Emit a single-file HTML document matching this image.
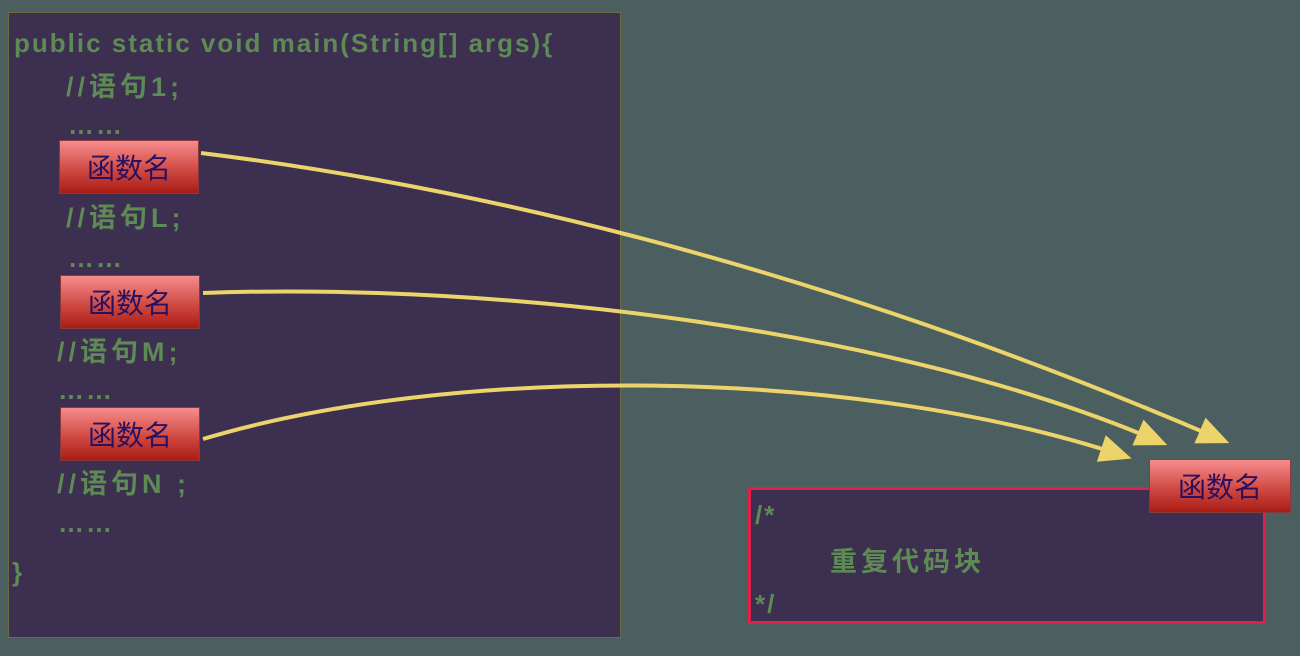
<!DOCTYPE html>
<html><head><meta charset="utf-8"><style>
body{margin:0;width:1300px;height:656px;background:#4b5f60;position:relative;overflow:hidden;font-family:"Liberation Sans","Noto Sans CJK SC",sans-serif}
.t{position:absolute;color:#5e8a56;font-size:26px;line-height:30px;white-space:pre;letter-spacing:2px;font-weight:bold}
.c{letter-spacing:4px;font-size:27px}
.btn{position:absolute;width:140px;height:54px;background:linear-gradient(#f68c8c,#d04a44 55%,#aa1c14);border:1px solid #8a3a3a;box-sizing:border-box;color:#2a1060;font-size:28px;text-align:center;line-height:52px;font-family:"Noto Sans CJK SC",sans-serif}
</style></head><body>
<div style="position:absolute;left:8px;top:12px;width:613px;height:626px;background:#3d2f4f;border:1px solid #6b6b3f;box-sizing:border-box"></div>
<div class="t" style="left:14px;top:28px">public static void main(String[] args){</div>
<div class="t c" style="left:66px;top:72px">//语句1;</div>
<div class="t" style="left:68px;top:110px">……</div>
<div class="btn" style="left:59px;top:140px">函数名</div>
<div class="t c" style="left:66px;top:203px">//语句L;</div>
<div class="t" style="left:68px;top:243px">……</div>
<div class="btn" style="left:60px;top:275px">函数名</div>
<div class="t c" style="left:57px;top:337px">//语句M;</div>
<div class="t" style="left:58px;top:375px">……</div>
<div class="btn" style="left:60px;top:407px">函数名</div>
<div class="t c" style="left:57px;top:469px">//语句N ;</div>
<div class="t" style="left:58px;top:508px">……</div>
<div class="t" style="left:12px;top:557px">}</div>
<div style="position:absolute;left:748px;top:487px;width:518px;height:137px;background:#3d2f4f;border:3px solid #e0204a;box-sizing:border-box"></div>
<div class="t" style="left:755px;top:500px">/*</div>
<div class="t c" style="left:830px;top:547px">重复代码块</div>
<div class="t" style="left:755px;top:589px">*/</div>
<div class="btn" style="left:1149px;top:459px;width:142px">函数名</div>
<svg width="1300" height="656" style="position:absolute;left:0;top:0">
<defs><marker id="a" markerWidth="8" markerHeight="7" refX="6" refY="3.5" orient="auto" markerUnits="strokeWidth"><path d="M0,0 L8,3.5 L0,7 z" fill="#ecd46a"/></marker></defs>
<g fill="none" stroke="#ecd46a" stroke-width="4">
<path d="M201,153 Q700,215 1222,440" marker-end="url(#a)"/>
<path d="M203,293 C500,282 900,330 1160,442" marker-end="url(#a)"/>
<path d="M203,439 C450,365 850,365 1124,456" marker-end="url(#a)"/>
</g></svg>
</body></html>
